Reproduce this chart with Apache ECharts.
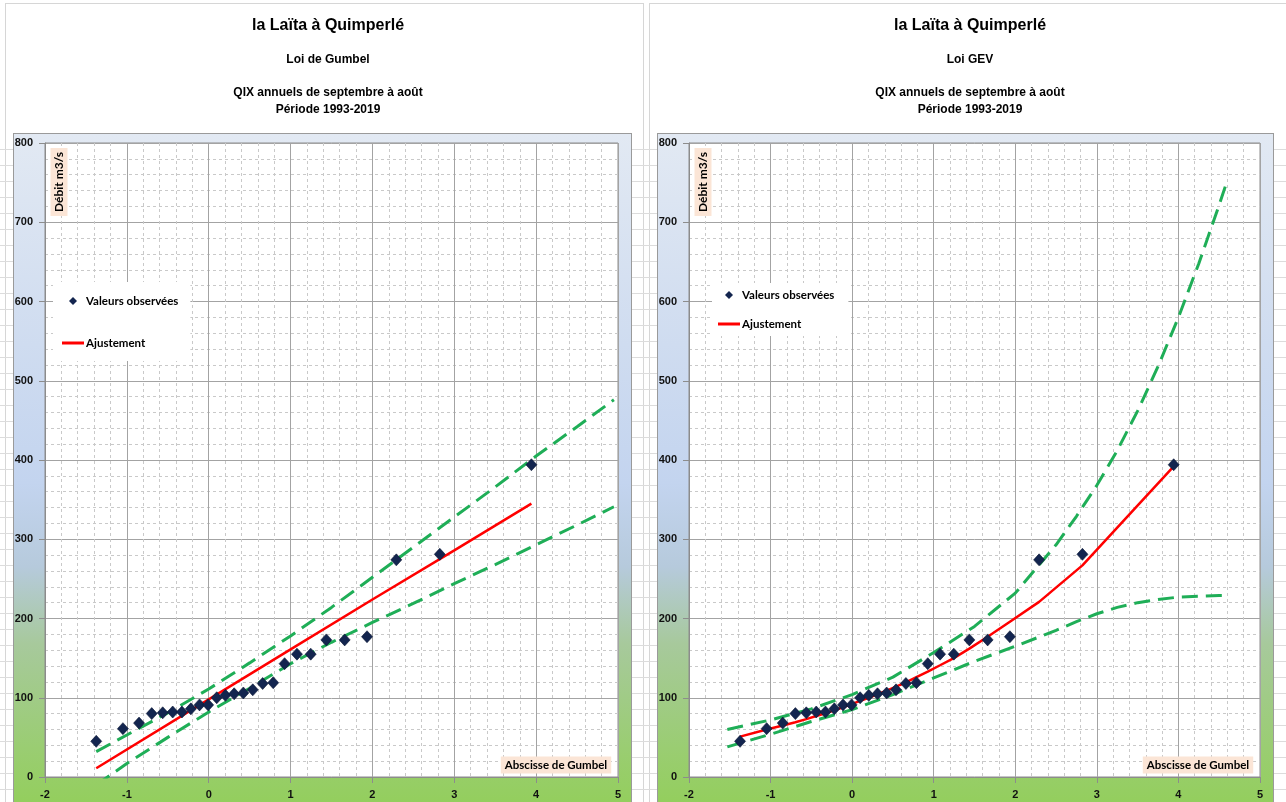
<!DOCTYPE html>
<html lang="fr">
<head>
<meta charset="utf-8">
<title>la Laïta à Quimperlé – QIX annuels</title>
<script src="https://cdn.jsdelivr.net/npm/echarts@6/dist/echarts.min.js"></script>
<style>
  html, body { margin: 0; padding: 0; background: #fff; }
  #stage { position: relative; width: 1286px; height: 802px; overflow: hidden; }
  #chart { position: absolute; left: 0; top: 0; width: 1286px; height: 802px; }
  .deco { position: absolute; box-sizing: border-box; }
  .cells { background: repeating-linear-gradient(to bottom, transparent 0, transparent 15px, #dcdcdc 15px, #dcdcdc 16px); }
  .plotbox {
    border: 1px solid #9a9a9a;
    background: linear-gradient(to bottom, #e2e9f3 0%, #cfdcf0 30%, #c3d4ef 50%, #b6cadc 62%, #a7c99c 73%, #9acd72 88%, #90cf52 100%);
  }
</style>
</head>
<body>
<div id="stage"><div id="chart"></div></div>
<script>
// Gumbel reduced variate of each annual maximum (plotting positions)
const gumbelAbscissa = [-1.374, -1.048, -0.851, -0.696, -0.562, -0.440, -0.327, -0.218, -0.112, -0.007,
  0.098, 0.204, 0.311, 0.423, 0.538, 0.659, 0.788, 0.927, 1.078, 1.246, 1.437, 1.661, 1.934, 2.292, 2.823, 3.942];
// Observed annual instantaneous maxima (QIX), m3/s, sorted
const qixObserved = [45, 61, 68, 80, 81, 82, 82, 86, 91, 91,
  100, 103, 105, 106, 110, 118, 119, 143, 155, 155, 173, 173, 177, 274, 281, 394];

// Gumbel law: fitted line and confidence bounds
const gumbelFitX = [-1.374, 0, 1, 2, 3, 3.942];
const gumbelFitQ = [11, 98, 161, 224, 286, 345];
const gumbelBandX = [-1.374, -1, -0.5, 0, 0.5, 1, 1.5, 2, 2.5, 3, 3.5, 4, 4.5, 4.95];
const gumbelUpper = [32, 53, 81, 111, 144, 178, 214, 252, 290, 328, 366, 405, 442, 476];
const gumbelLower = [-10, 17, 50, 82, 112, 143, 170, 195, 219, 244, 268, 293, 318, 341];

// GEV law: fitted curve (at observed abscissas) and confidence bounds
const gevFitQ = [51, 60, 65, 69, 73, 77, 80.5, 84, 88, 92,
  96, 100, 104.5, 109, 114, 119.5, 126, 133, 141, 150, 162, 177, 196, 221, 267, 392];
const gevBandX = [-1.53, -1, -0.5, 0, 0.5, 1, 1.5, 2, 2.5, 2.75, 3, 3.25, 3.5, 3.75, 4, 4.25, 4.5, 4.6];
const gevUpper = [60, 72, 86, 104, 126, 157, 190, 232, 293, 329, 368, 412, 462, 518, 580, 648, 722, 753];
const gevLower = [38, 54, 70, 85, 104, 125, 146, 165, 185, 196, 206, 214, 220, 224, 227, 228, 229, 229];

// Text
const stationTitle = 'la Laïta à Quimperlé';
const lawNames = ['Loi de Gumbel', 'Loi GEV'];
const subtitleLines = ['QIX annuels de septembre à août', 'Période 1993-2019'];
const yAxisTitle = 'Débit m3/s';
const xAxisTitle = 'Abscisse de Gumbel';
const legendNames = ['Valeurs observées', 'Ajustement'];
const xTicks = { min: -2, max: 5, step: 1 };
const yTicks = { min: 0, max: 800, step: 100 };

// ---- layout of the two panels ----
const panels = [
  { grid: { left: 45, top: 143, width: 573, height: 634 }, center: 328,
    box: { left: 13, width: 619 }, frame: { left: 5, width: 639 },
    legend: { left: 53, top: 282, gap: 30, pad: [13, 12, 12, 9] } },
  { grid: { left: 689, top: 143, width: 571, height: 634 }, center: 970,
    box: { left: 657, width: 617 }, frame: { left: 649, width: 650 },
    legend: { left: 712, top: 283, gap: 17, pad: [6, 14, 6, 6] } }
];

// Spreadsheet-like decor behind the canvas
const stage = document.getElementById('stage');
function addDeco(cls, l, t, w, h, extra) {
  const d = document.createElement('div');
  d.className = 'deco ' + cls;
  Object.assign(d.style, { left: l + 'px', top: t + 'px', width: w + 'px', height: h + 'px' }, extra || {});
  stage.insertBefore(d, stage.firstChild);
}
addDeco('cells', 0, 134, 13, 700);
addDeco('cells', 632, 134, 25, 700);
addDeco('cells', 1274, 134, 12, 700);
panels.forEach(p => {
  addDeco('', p.frame.left, 3, p.frame.width, 820, { border: '1px solid #d6d6d6' });
  addDeco('plotbox', p.box.left, 133, p.box.width, 700);
});

const GREEN = '#1fae57';
const RED = '#ff0000';
const NAVY = '#13254f';
const labelFont = 'Liberation Sans, Arial, sans-serif';
const calibriLike = 'Lato, "Open Sans", sans-serif';

// legend glyphs: small diamond and a short thick line
const DIAMOND_ICON = 'path://M5,0 L10,5 L5,10 L0,5 Z';
const LINE_ICON = 'path://M0,0 L22,0 L22,3 L0,3 Z';

const pairs = (xs, ys) => xs.map((x, i) => [x, ys[i]]);

function axisPair(i) {
  const common = {
    gridIndex: i,
    type: 'value',
    axisLine: { show: true, onZero: false, lineStyle: { color: '#8c8c8c', width: 1 } },
    axisTick: { show: true, length: 6, lineStyle: { color: '#8c8c8c' } },
    axisLabel: { color: '#111', fontFamily: labelFont, fontWeight: 'bold', fontSize: 11, margin: 12 },
    splitLine: { show: true, lineStyle: { color: '#a3a3a3', width: 1 } },
    minorTick: { show: false, splitNumber: 5 },
    minorSplitLine: { show: true, lineStyle: { color: '#c9c9c9', width: 1, type: [3, 3] } }
  };
  return {
    x: Object.assign({}, common, { min: xTicks.min, max: xTicks.max, interval: xTicks.step }),
    y: Object.assign({}, common, { min: yTicks.min, max: yTicks.max, interval: yTicks.step })
  };
}

const axes = [axisPair(0), axisPair(1)];

function panelSeries(i, fitData) {
  const band = i === 0 ? [gumbelBandX, gumbelUpper, gumbelLower] : [gevBandX, gevUpper, gevLower];
  const dashed = { color: GREEN, width: 3, type: [16, 8], cap: 'butt' };
  return [
    { name: 'Borne supérieure', type: 'line', xAxisIndex: i, yAxisIndex: i, symbol: 'none',
      data: pairs(band[0], band[1]), lineStyle: dashed, z: 3 },
    { name: 'Borne inférieure', type: 'line', xAxisIndex: i, yAxisIndex: i, symbol: 'none',
      data: pairs(band[0], band[2]), lineStyle: dashed, z: 3 },
    { name: legendNames[1], type: 'line', xAxisIndex: i, yAxisIndex: i, symbol: 'none',
      data: fitData, lineStyle: { color: RED, width: 2.5 }, itemStyle: { color: RED }, z: 4 },
    { name: legendNames[0], type: 'scatter', xAxisIndex: i, yAxisIndex: i, symbol: 'diamond',
      symbolSize: [11, 12], data: pairs(gumbelAbscissa, qixObserved),
      itemStyle: { color: NAVY, opacity: 1, borderColor: '#0a1533', borderWidth: 0.6 }, z: 5 }
  ];
}

const centered = { align: 'center', verticalAlign: 'middle', textAlign: 'center', textVerticalAlign: 'middle' };
const graphics = [];
panels.forEach((p, i) => {
  graphics.push({
    type: 'text', x: p.center, y: 26, silent: true,
    style: Object.assign({ text: stationTitle, font: 'bold 16px ' + labelFont, fill: '#000' }, centered)
  });
  graphics.push({
    type: 'text', x: p.center, y: 60, silent: true,
    style: Object.assign({ text: lawNames[i], font: 'bold 12px ' + labelFont, fill: '#000' }, centered)
  });
  subtitleLines.forEach((line, k) => {
    graphics.push({
      type: 'text', x: p.center, y: 93 + 16.5 * k, silent: true,
      style: Object.assign({ text: line, font: 'bold 12px ' + labelFont, fill: '#000' }, centered)
    });
  });
  // axis titles inside the plotting area
  graphics.push({
    type: 'text', x: p.grid.left + 14, y: p.grid.top + 39, rotation: Math.PI / 2, z: 10, silent: true,
    style: Object.assign({ text: yAxisTitle, font: 'bold 12px ' + calibriLike, fill: '#000',
      backgroundColor: '#fbe5d6', padding: [3, 4, 2, 4] }, centered)
  });
  graphics.push({
    type: 'text', x: p.grid.left + p.grid.width - 62, y: p.grid.top + p.grid.height - 12, z: 10, silent: true,
    style: Object.assign({ text: xAxisTitle, font: 'bold 11.5px ' + calibriLike, fill: '#000',
      backgroundColor: '#fbe5d6', padding: [3, 4, 2, 4] }, centered)
  });
});

const option = {
  animation: false,
  backgroundColor: 'transparent',
  grid: panels.map(p => Object.assign({ show: true, backgroundColor: '#ffffff', borderColor: '#8c8c8c', borderWidth: 1 }, p.grid)),
  xAxis: axes.map(a => a.x),
  yAxis: axes.map(a => a.y),
  legend: panels.map(p => ({
    left: p.legend.left, top: p.legend.top, orient: 'vertical', selectedMode: false,
    backgroundColor: '#ffffff', padding: p.legend.pad, itemGap: p.legend.gap,
    itemWidth: 22, itemHeight: 8, symbolKeepAspect: true, z: 10,
    data: [
      { name: legendNames[0], icon: DIAMOND_ICON, itemStyle: { color: NAVY, borderWidth: 0 } },
      { name: legendNames[1], icon: LINE_ICON, itemStyle: { color: RED, borderWidth: 0 } }
    ],
    textStyle: { fontFamily: calibriLike, fontWeight: 'bold', fontSize: 11.5, color: '#000', padding: [0, 0, 0, -3] }
  })),
  graphic: graphics,
  series: [
    ...panelSeries(0, pairs(gumbelFitX, gumbelFitQ)),
    ...panelSeries(1, pairs(gumbelAbscissa, gevFitQ))
  ]
};

const chart = echarts.init(document.getElementById('chart'), null, { renderer: 'canvas' });
chart.setOption(option);
</script>
</body>
</html>
